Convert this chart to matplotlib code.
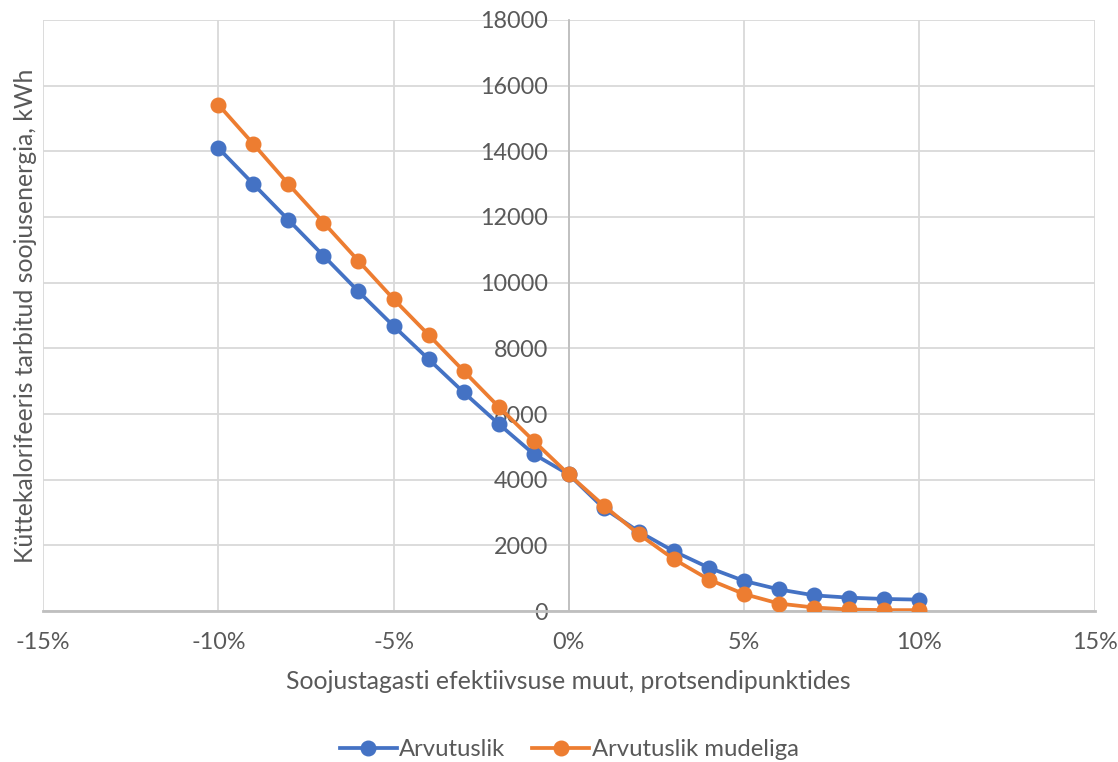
import matplotlib
matplotlib.use("Agg")
import matplotlib.pyplot as plt
from matplotlib.ticker import FuncFormatter, MultipleLocator

plt.rcParams['font.family'] = ['Lato', 'DejaVu Sans']

# soojustagasti efektiivsuse muut (osa), -10% ... +10%
muut = [i / 100 for i in range(-10, 11)]
arvutuslik = [14100, 13000, 11910, 10820, 9730, 8680, 7670, 6660, 5700, 4780,
              4160, 3130, 2420, 1820, 1320, 920, 660, 480, 410, 370, 350]
mudeliga = [15420, 14220, 13000, 11830, 10660, 9500, 8410, 7310, 6220, 5180,
            4160, 3210, 2340, 1580, 960, 520, 230, 110, 50, 30, 30]

SININE = "#4472C4"
ORANZ = "#ED7D31"
HALL = "#595959"
GRID = "#D9D9D9"

fig = plt.figure(figsize=(11.18, 7.62), dpi=100)
ax = fig.add_axes([0.0385, 0.198, 0.9405, 0.776])

ax.plot(muut, arvutuslik, color=SININE, lw=2.7, marker="o", ms=10.5, label="Arvutuslik", zorder=3)
ax.plot(muut, mudeliga, color=ORANZ, lw=2.7, marker="o", ms=10.5, label="Arvutuslik mudeliga", zorder=4)

ax.set_xlim(-0.15, 0.15)
ax.set_ylim(0, 18000)
ax.xaxis.set_major_locator(MultipleLocator(0.05))
ax.yaxis.set_major_locator(MultipleLocator(2000))
ax.xaxis.set_major_formatter(FuncFormatter(lambda v, p: f"{round(v * 100):d}%"))

ax.grid(True, color=GRID, lw=1.3, zorder=0)
ax.set_axisbelow(True)

for s in ["top", "right"]:
    ax.spines[s].set_visible(False)
ax.spines["left"].set_position(("data", 0))
ax.spines["left"].set_color("#BFBFBF")
ax.spines["left"].set_linewidth(1.3)
ax.spines["bottom"].set_color("#BFBFBF")
ax.spines["bottom"].set_linewidth(2)

ax.tick_params(axis="both", length=0, labelsize=16.8, colors=HALL)
ax.tick_params(axis="x", pad=15)
ax.tick_params(axis="y", pad=15)

ax.set_xlabel("Soojustagasti efektiivsuse muut, protsendipunktides", fontsize=17.8, color=HALL, labelpad=12)
ax.set_ylabel("Küttekalorifeeris tarbitud soojusenergia, kWh", fontsize=17.8, color=HALL)
ax.yaxis.set_label_coords(-0.006, 0.5)

fig.legend(loc="lower center", bbox_to_anchor=(0.509, -0.026), ncol=2, frameon=False,
           fontsize=17.2, labelcolor=HALL, handlelength=2.4, handletextpad=0.1, columnspacing=1.1)

fig.savefig("out.png", dpi=100)
